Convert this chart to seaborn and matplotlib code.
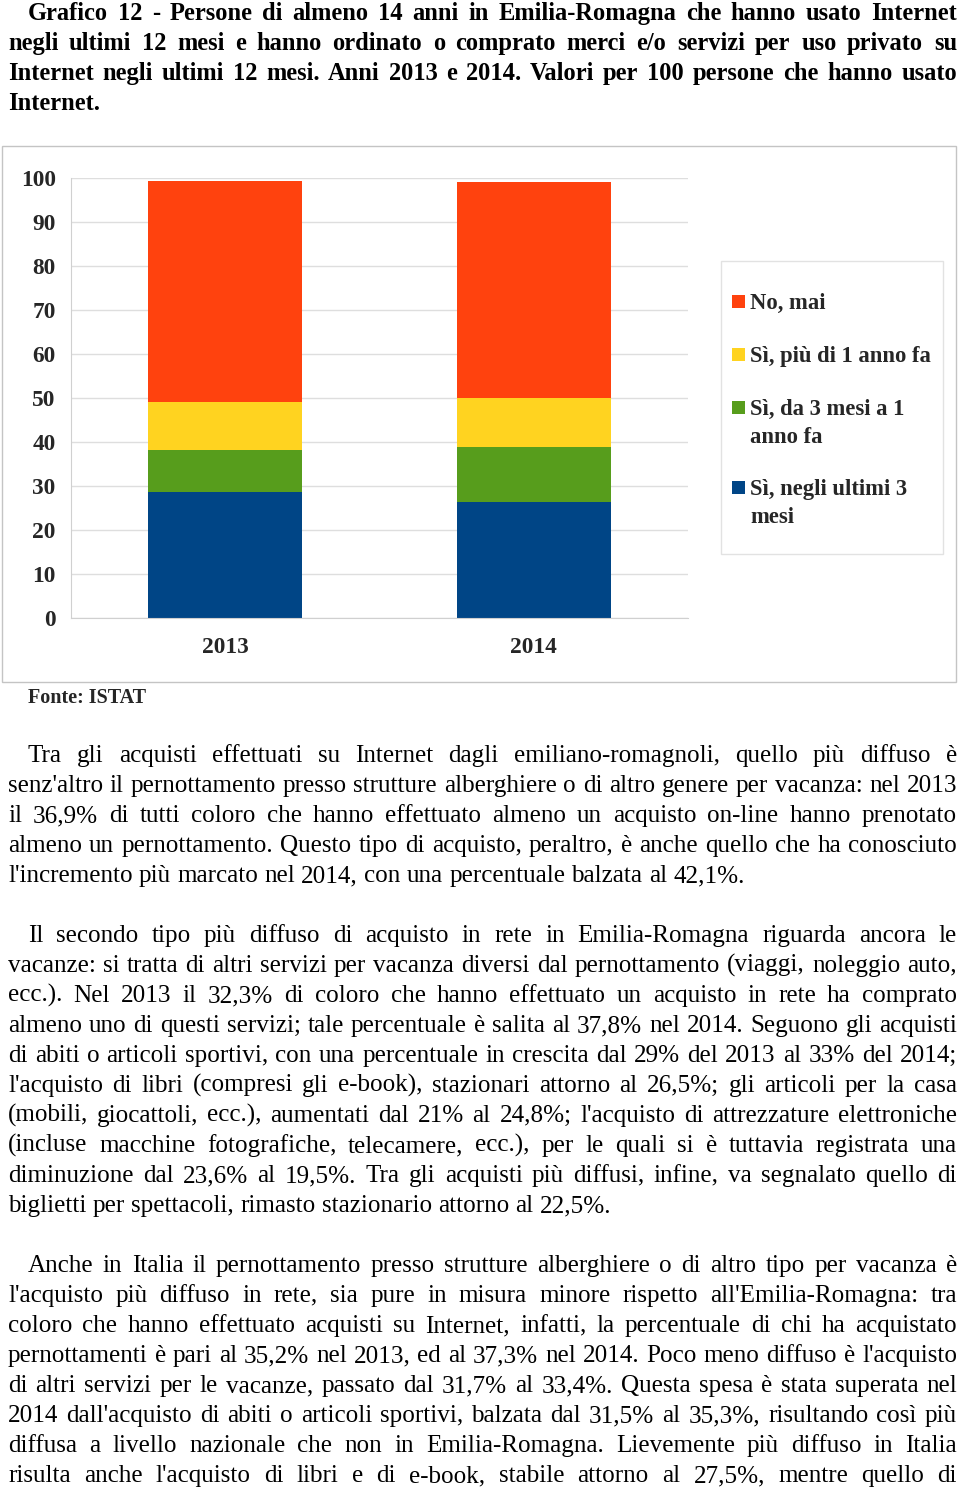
import matplotlib
matplotlib.use("Agg")
import matplotlib.pyplot as plt
import seaborn as sns
import numpy as np
import pandas as pd
from matplotlib.font_manager import FontProperties
from matplotlib.patches import Rectangle

# ---------------- data ----------------
years = ["2013", "2014"]
series_names = ["No, mai", "Sì, più di 1 anno fa", "Sì, da 3 mesi a 1\nanno fa", "Sì, negli ultimi 3\nmesi"]
ultimi_3_mesi = [28.7, 26.3]
da_3_mesi_a_1_anno = [9.4, 12.6]
piu_di_1_anno = [11.1, 11.2]
no_mai = [50.2, 49.1]
colors = {"no": "#FF420E", "piu": "#FFD320", "da3": "#579D1C", "ult": "#004586"}
yticks = list(range(0, 101, 10))

title_lines = [
    "Grafico 12 - Persone di almeno 14 anni in Emilia-Romagna che hanno usato Internet",
    "negli ultimi 12 mesi e hanno ordinato o comprato merci e/o servizi per uso privato su",
    "Internet negli ultimi 12 mesi. Anni 2013 e 2014. Valori per 100 persone che hanno usato",
    "Internet.",
]
par1 = [
    "Tra gli acquisti effettuati su Internet dagli emiliano-romagnoli, quello più diffuso è",
    "senz'altro il pernottamento presso strutture alberghiere o di altro genere per vacanza: nel 2013",
    "il 36,9% di tutti coloro che hanno effettuato almeno un acquisto on-line hanno prenotato",
    "almeno un pernottamento. Questo tipo di acquisto, peraltro, è anche quello che ha conosciuto",
    "l'incremento più marcato nel 2014, con una percentuale balzata al 42,1%.",
]
par2 = [
    "Il secondo tipo più diffuso di acquisto in rete in Emilia-Romagna riguarda ancora le",
    "vacanze: si tratta di altri servizi per vacanza diversi dal pernottamento (viaggi, noleggio auto,",
    "ecc.). Nel 2013 il 32,3% di coloro che hanno effettuato un acquisto in rete ha comprato",
    "almeno uno di questi servizi; tale percentuale è salita al 37,8% nel 2014. Seguono gli acquisti",
    "di abiti o articoli sportivi, con una percentuale in crescita dal 29% del 2013 al 33% del 2014;",
    "l'acquisto di libri (compresi gli e-book), stazionari attorno al 26,5%; gli articoli per la casa",
    "(mobili, giocattoli, ecc.), aumentati dal 21% al 24,8%; l'acquisto di attrezzature elettroniche",
    "(incluse macchine fotografiche, telecamere, ecc.), per le quali si è tuttavia registrata una",
    "diminuzione dal 23,6% al 19,5%. Tra gli acquisti più diffusi, infine, va segnalato quello di",
    "biglietti per spettacoli, rimasto stazionario attorno al 22,5%.",
]
par3 = [
    "Anche in Italia il pernottamento presso strutture alberghiere o di altro tipo per vacanza è",
    "l'acquisto più diffuso in rete, sia pure in misura minore rispetto all'Emilia-Romagna: tra",
    "coloro che hanno effettuato acquisti su Internet, infatti, la percentuale di chi ha acquistato",
    "pernottamenti è pari al 35,2% nel 2013, ed al 37,3% nel 2014. Poco meno diffuso è l'acquisto",
    "di altri servizi per le vacanze, passato dal 31,7% al 33,4%. Questa spesa è stata superata nel",
    "2014 dall'acquisto di abiti o articoli sportivi, balzata dal 31,5% al 35,3%,  risultando così più",
    "diffusa a livello nazionale che non in Emilia-Romagna. Lievemente più diffuso in Italia",
    "risulta anche l'acquisto di libri e di e-book, stabile attorno al 27,5%, mentre quello di",
]

# ---------------- setup ----------------
W, H = 960, 1487
sns.set_style("white")
plt.rcParams["font.family"] = ["Liberation Serif", "DejaVu Serif"]

fig = plt.figure(figsize=(W / 100, H / 100), dpi=100)
renderer = fig.canvas.get_renderer()


def fx(x):
    return x / W


def fy(y):
    return 1 - y / H


def measure(s, fp):
    t = fig.text(0, 0, s, fontproperties=fp)
    w = t.get_window_extent(renderer).width
    t.remove()
    return w


def draw_par(lines, x_indent, x_left, x_right, y_first, step, fp, last_justified=False):
    space_w = measure("a a", fp) - measure("aa", fp)
    for i, line in enumerate(lines):
        x0 = x_indent if i == 0 else x_left
        y = y_first + i * step
        words = line.split()
        widths = [measure(w, fp) for w in words]
        is_last = (i == len(lines) - 1) and not last_justified
        if is_last or len(words) == 1:
            gap = space_w
        else:
            gap = (x_right - x0 - sum(widths)) / (len(words) - 1)
        x = x0
        for w, wd in zip(words, widths):
            fig.text(fx(x), fy(y), w, fontproperties=fp, va="baseline", ha="left", color="black")
            x += wd + gap


# fonts sized to match reference line widths
fp_t = FontProperties(family="Liberation Serif", weight="bold", size=17)
t_size = 17 * 92 / measure("Internet.", fp_t)
fp_title = FontProperties(family="Liberation Serif", weight="bold", size=t_size)

fp_b = FontProperties(family="Liberation Serif", size=16)
s1 = 16 * 739 / measure(par1[-1], fp_b)
s2 = 16 * 604 / measure(par2[-1], fp_b)
fp_body = FontProperties(family="Liberation Serif", size=(s1 + s2) / 2)

# title
draw_par(title_lines, 28, 8, 957, 20, 30, fp_title)

# ---------------- chart ----------------
border = Rectangle((fx(2), fy(682)), (956 - 2) / W, (682 - 146) / H, transform=fig.transFigure,
                   fill=False, edgecolor="#c4c4c4", lw=1.0)
fig.add_artist(border)

ax = fig.add_axes([fx(71), fy(618), (688 - 71) / W, (618 - 178) / H])
ax.set_facecolor("white")

b = np.array(ultimi_3_mesi)
g = b + np.array(da_3_mesi_a_1_anno)
yl = g + np.array(piu_di_1_anno)
r = yl + np.array(no_mai)
layers = [(r, colors["no"]), (yl, colors["piu"]), (g, colors["da3"]), (b, colors["ult"])]
for vals, c in layers:
    sns.barplot(x=years, y=vals, color=c, width=0.5, saturation=1, ax=ax, edgecolor="none", linewidth=0)

ax.set_xlim(-0.5, 1.5)
ax.set_ylim(0, 100)
ax.set_xlabel("")
ax.set_ylabel("")
ax.set_yticks(yticks)
ax.set_yticklabels([str(v) for v in yticks])
ax.yaxis.grid(True, color="#dedede", lw=1)
ax.xaxis.grid(False)
ax.set_axisbelow(True)
for s in ["top", "right"]:
    ax.spines[s].set_visible(False)
ax.spines["left"].set_color("#d0d0d0")
ax.spines["bottom"].set_color("#d0d0d0")
ax.tick_params(axis="y", which="major", length=5, color="#d0d0d0", pad=6, labelsize=16.8)
ax.tick_params(axis="x", which="major", length=0, pad=14, labelsize=16.8)
ax.set_xticks([-0.5, 0.5, 1.5], minor=True)
ax.tick_params(axis="x", which="minor", length=5, color="#d0d0d0", direction="out")
for lab in ax.get_yticklabels() + ax.get_xticklabels():
    lab.set_fontweight("bold")
    lab.set_family("Liberation Serif")

# legend
leg_frame = Rectangle((fx(721), fy(554)), (943 - 721) / W, (554 - 261) / H, transform=fig.transFigure,
                      facecolor="white", edgecolor="#e2e2e2", lw=1.0)
fig.add_artist(leg_frame)
fp_leg = FontProperties(family="Liberation Serif", weight="bold", size=16.3)
leg_colors = [colors["no"], colors["piu"], colors["da3"], colors["ult"]]
leg_y = [302, 355, 408, 488]
for name, c, y in zip(series_names, leg_colors, leg_y):
    sq = Rectangle((fx(732), fy(y + 6)), 13 / W, 13 / H, transform=fig.transFigure,
                   facecolor=c, edgecolor="none")
    fig.add_artist(sq)
    for k, part in enumerate(name.split("\n")):
        fig.text(fx(750), fy(y + 7 + k * 28), part, fontproperties=fp_leg, va="baseline", ha="left")

fp_src = FontProperties(family="Liberation Serif", weight="bold", size=14.5)
fig.text(fx(28), fy(703), "Fonte: ISTAT", fontproperties=fp_src, va="baseline", ha="left")

# ---------------- body text ----------------
draw_par(par1, 28, 8, 957, 762, 30, fp_body)
draw_par(par2, 28, 8, 957, 942, 30, fp_body)
draw_par(par3, 28, 8, 957, 1272, 30, fp_body, last_justified=True)

fig.savefig("out.png", dpi=100)
